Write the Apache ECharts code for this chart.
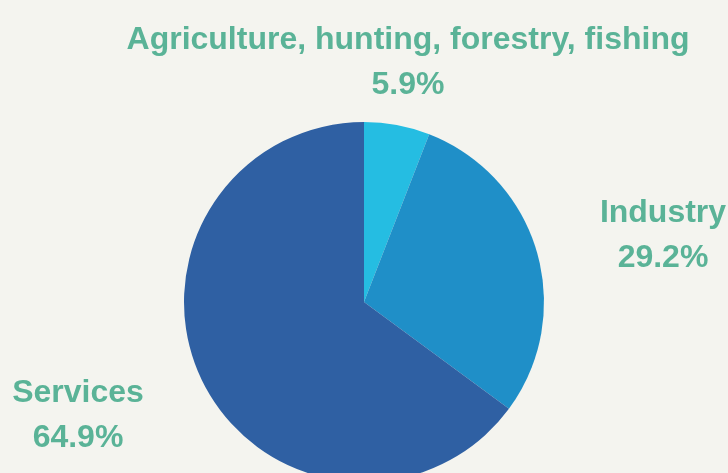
<!DOCTYPE html>
<html>
<head>
<meta charset="utf-8">
<script src="https://cdn.jsdelivr.net/npm/echarts@6/dist/echarts.min.js"></script>
<style>
html,body{margin:0;padding:0;background:#f4f4ef;}
#chart{width:728px;height:473px;}
</style>
</head>
<body>
<div id="chart"></div>
<script>
const categories = ['Agriculture, hunting, forestry, fishing', 'Industry', 'Services'];
const shares = [5.9, 29.2, 64.9];
const sliceColors = ['#25bde2', '#1f8fc8', '#2f60a3'];

// label anchor positions (layout only)
const labelPos = [[408, 63], [663, 236], [78, 416]];

const chart = echarts.init(document.getElementById('chart'), null, {renderer: 'canvas'});
chart.setOption({
  backgroundColor: '#f4f4ef',
  animation: false,
  series: [{
    type: 'pie',
    center: [364, 302],
    radius: 180,
    startAngle: 90,
    clockwise: true,
    data: categories.map((c, i) => ({name: c, value: shares[i], itemStyle: {color: sliceColors[i]}})),
    label: {
      show: true,
      position: 'outside',
      formatter: p => p.name + '\n' + p.value.toFixed(1) + '%',
      color: '#5ab397',
      fontFamily: 'Liberation Sans, Arial, sans-serif',
      fontWeight: 'bold',
      fontSize: 32,
      lineHeight: 45,
      align: 'center',
      overflow: 'none',
      width: 700
    },
    labelLine: {show: false},
    labelLayout: function (params) {
      const p = labelPos[params.dataIndex];
      return {x: p[0], y: p[1], align: 'center', verticalAlign: 'middle'};
    },
    itemStyle: {borderWidth: 0},
    emphasis: {disabled: true}
  }]
});
</script>
</body>
</html>
